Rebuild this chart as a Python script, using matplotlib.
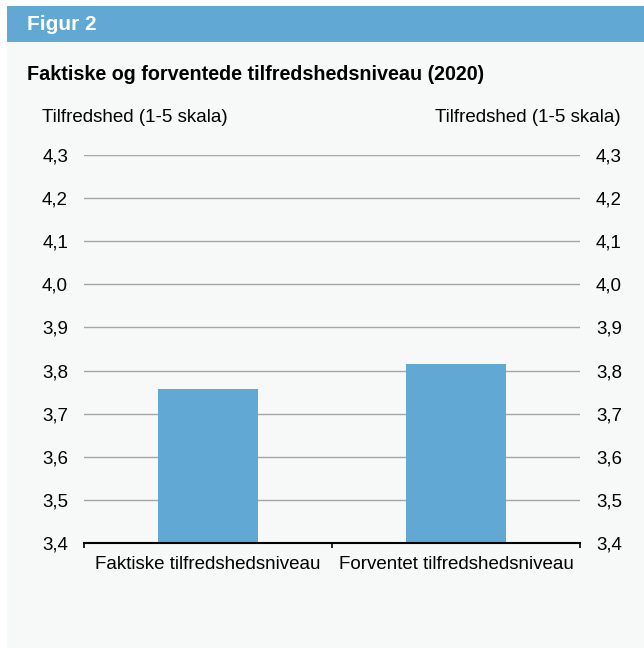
import matplotlib.pyplot as plt
from matplotlib.patches import Rectangle

categories = ['Faktiske tilfredshedsniveau', 'Forventet tilfredshedsniveau']
values = [3.757, 3.815]
yticks = [3.4, 3.5, 3.6, 3.7, 3.8, 3.9, 4.0, 4.1, 4.2, 4.3]

blue = '#62a8d4'
bg = '#f7f8f8'
plt.rcParams['font.family'] = ['Liberation Sans', 'DejaVu Sans']

W, H = 644, 648
fig = plt.figure(figsize=(W / 100, H / 100), dpi=100)
fig.patch.set_facecolor('white')

# background panel and header bar
fig.patches.append(Rectangle((7 / W, 0), 1 - 7 / W, 1 - 6 / H, transform=fig.transFigure,
                             facecolor=bg, edgecolor='none', zorder=-2))
fig.patches.append(Rectangle((7 / W, 1 - 42 / H), 1 - 7 / W, 36 / H, transform=fig.transFigure,
                             facecolor=blue, edgecolor='none', zorder=-1))
fig.text(27 / W, 1 - 24 / H, 'Figur 2', color='white', fontsize=15, fontweight='bold',
         va='center', ha='left')
fig.text(27 / W, 1 - 75 / H, 'Faktiske og forventede tilfredshedsniveau (2020)',
         fontsize=14.2, fontweight='bold', va='center', ha='left')
fig.text(42 / W, 1 - 117 / H, 'Tilfredshed (1-5 skala)', fontsize=13.5, va='center', ha='left')
fig.text(621 / W, 1 - 117 / H, 'Tilfredshed (1-5 skala)', fontsize=13.5, va='center', ha='right')

ax = fig.add_axes([84 / W, 1 - 543 / H, 496 / W, 388 / H])
ax.set_zorder(5)
ax.set_facecolor('none')
x = range(len(categories))
ax.bar(x, values, width=0.4, color=blue, zorder=3)
ax.set_xlim(-0.5, 1.5)
ax.set_ylim(3.4, 4.3)
ax.set_yticks(yticks)
ax.set_yticklabels([f'{v:.1f}'.replace('.', ',') for v in yticks], fontsize=13.5)
ax.grid(axis='y', color='#a6a6a6', linewidth=1, zorder=0)
ax.tick_params(axis='y', length=0, pad=11.5, left=True, right=True, labelleft=True, labelright=True)
ax.set_xticks([-0.5, 0.5, 1.5])
ax.set_xticklabels([])
ax.tick_params(axis='x', length=3.5, width=1.2, color='black')
for i, c in enumerate(categories):
    ax.text(i, -0.055, c, transform=ax.get_xaxis_transform(), ha='center', va='center', fontsize=13.5)
for s in ['top', 'left', 'right']:
    ax.spines[s].set_visible(False)
ax.spines['bottom'].set_color('black')
ax.spines['bottom'].set_linewidth(1.5)
ax.spines['bottom'].set_zorder(4)

fig.savefig('out.png', dpi=100, facecolor=fig.get_facecolor())
